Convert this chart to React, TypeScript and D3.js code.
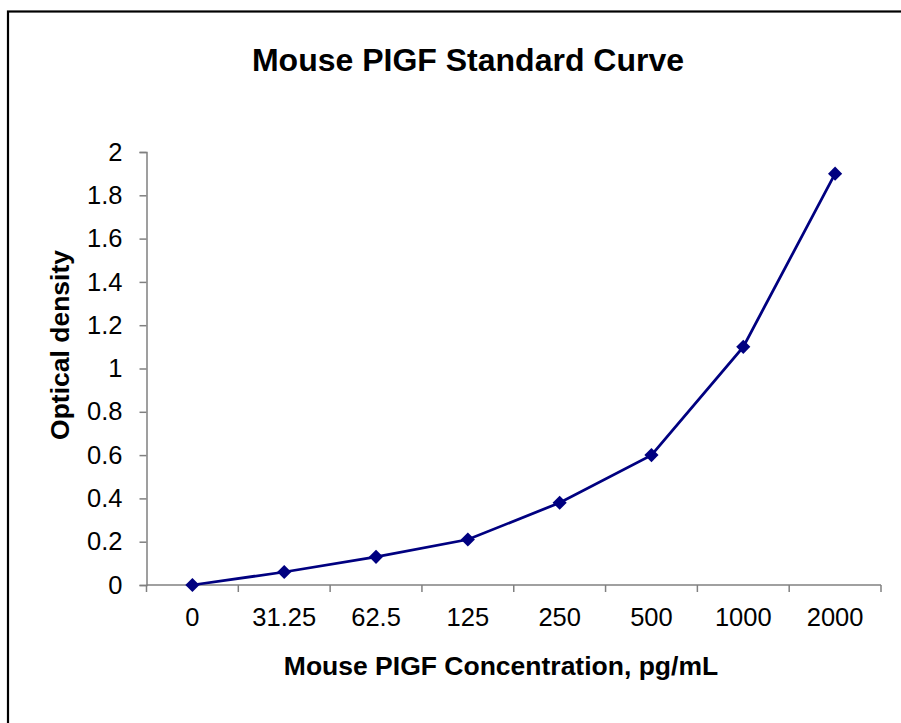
import { useRef, useEffect } from "react";
import * as d3 from "d3";

const categories = ["0", "31.25", "62.5", "125", "250", "500", "1000", "2000"];
const opticalDensity = [0, 0.06, 0.13, 0.21, 0.38, 0.6, 1.1, 1.9];
const yTicks = [0, 0.2, 0.4, 0.6, 0.8, 1, 1.2, 1.4, 1.6, 1.8, 2];

const NAVY = "#000080";
const AXIS = "#808080";
const FONT = "'Liberation Sans', Arial, sans-serif";

export default function App() {
  const svgRef = useRef<SVGSVGElement>(null);

  useEffect(() => {
    if (!svgRef.current) return;
    const svg = d3.select(svgRef.current);
    svg.selectAll("*").remove();

    const width = 901;
    const height = 723;

    // outer frame, runs off the right/bottom edges like the original
    svg.append("rect")
      .attr("x", 8).attr("y", 11.5)
      .attr("width", 1200).attr("height", 1200)
      .attr("fill", "none").attr("stroke", "#000").attr("stroke-width", 2.2);

    const x = d3.scaleBand().domain(categories).range([146.5, 881]);
    const y = d3.scaleLinear().domain([0, 2]).range([585, 152]);

    // title
    svg.append("text")
      .attr("x", 468).attr("y", 71).attr("text-anchor", "middle")
      .attr("font-family", FONT).attr("font-size", "32px").attr("font-weight", "bold")
      .text("Mouse PIGF Standard Curve");

    // y axis
    const yAxis = svg.append("g")
      .attr("transform", `translate(${x.range()[0]},0)`)
      .call(d3.axisLeft(y).tickValues(yTicks).tickSize(7).tickPadding(17).tickFormat((d) => String(d)));
    yAxis.select(".domain").attr("stroke", AXIS).attr("stroke-width", 1.5);
    yAxis.selectAll("line").attr("stroke", AXIS).attr("stroke-width", 1.5);
    yAxis.selectAll("text")
      .attr("fill", "#000").attr("font-family", FONT).attr("font-size", "25.5px");

    // x axis with ticks between categories
    const xg = svg.append("g");
    xg.append("line")
      .attr("x1", x.range()[0]).attr("x2", x.range()[1])
      .attr("y1", y(0)).attr("y2", y(0))
      .attr("stroke", AXIS).attr("stroke-width", 1.5);
    const bounds = categories.map((c) => x(c)!).concat([x.range()[1]]);
    xg.selectAll("line.tick")
      .data(bounds).join("line").attr("class", "tick")
      .attr("x1", (d) => d).attr("x2", (d) => d)
      .attr("y1", y(0)).attr("y2", y(0) + 7)
      .attr("stroke", AXIS).attr("stroke-width", 1.5);
    xg.selectAll("text")
      .data(categories).join("text")
      .attr("x", (d) => x(d)! + x.bandwidth() / 2).attr("y", 626)
      .attr("text-anchor", "middle")
      .attr("font-family", FONT).attr("font-size", "25.5px")
      .text((d) => d);

    // axis titles
    svg.append("text")
      .attr("x", 501).attr("y", 675).attr("text-anchor", "middle")
      .attr("font-family", FONT).attr("font-size", "26.5px").attr("font-weight", "bold")
      .text("Mouse PIGF Concentration, pg/mL");
    svg.append("text")
      .attr("transform", "translate(69,345) rotate(-90)")
      .attr("text-anchor", "middle")
      .attr("font-family", FONT).attr("font-size", "26.5px").attr("font-weight", "bold")
      .text("Optical density");

    // series
    const cx = (i: number) => x(categories[i])! + x.bandwidth() / 2;
    const line = d3.line<number>().x((_, i) => cx(i)).y((d) => y(d));
    svg.append("path").datum(opticalDensity).attr("d", line)
      .attr("fill", "none").attr("stroke", NAVY).attr("stroke-width", 2.75);

    const diamond = d3.symbol().type(d3.symbolSquare).size(100);
    svg.selectAll("path.marker")
      .data(opticalDensity).join("path").attr("class", "marker")
      .attr("d", diamond)
      .attr("transform", (d, i) => `translate(${cx(i)},${y(d)}) rotate(45)`)
      .attr("fill", NAVY);

    svg.attr("viewBox", `0 0 ${width} ${height}`);
  }, []);

  return (
    <svg
      ref={svgRef}
      width={901}
      height={723}
      style={{ position: "absolute", left: 0, top: 0, background: "#fff" }}
    />
  );
}
